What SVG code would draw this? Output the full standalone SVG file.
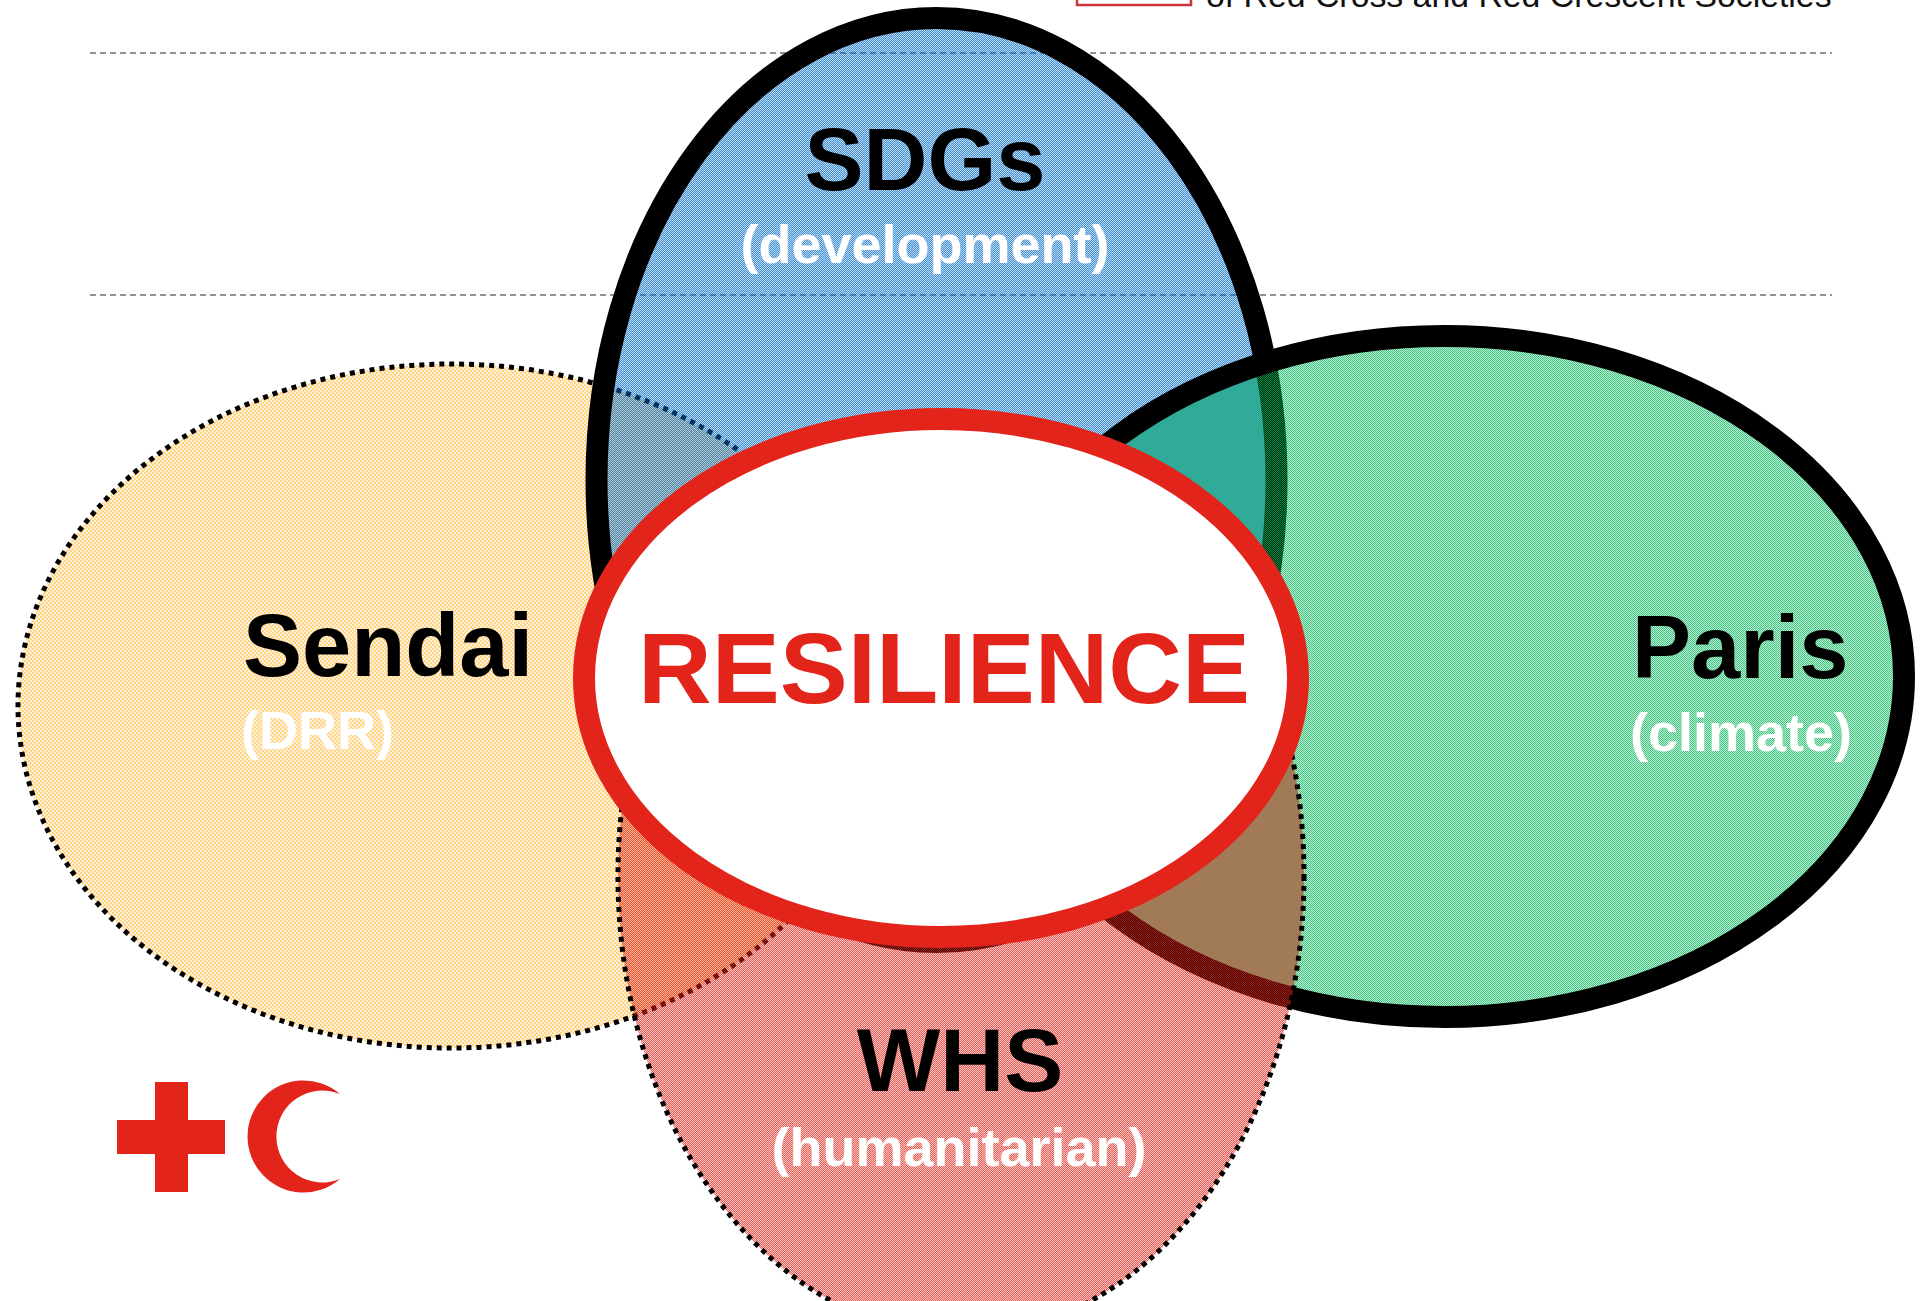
<svg xmlns="http://www.w3.org/2000/svg" width="1922" height="1301" viewBox="0 0 1922 1301">
<style>
.b{font-family:"Liberation Sans",Arial,sans-serif;font-weight:700}
.t{font-size:88.5px;fill:#000}
.w{font-size:54px;fill:#fff}
.solid{stroke:#000;stroke-width:22}
.dot{stroke:#000;stroke-width:5;stroke-dasharray:5 5}
.dash{stroke:#6f6f6f;stroke-width:1.6;stroke-dasharray:6 4;fill:none}
.hi{fill-opacity:.75}
.lo{fill-opacity:.25}
</style>
<defs>
<pattern id="py" width="4" height="4" patternUnits="userSpaceOnUse"><g fill="#ffc85e"><path class="hi" d="M0 0h2v2h-2zM2 2h2v2h-2z"/><path class="lo" d="M2 0h2v2h-2zM0 2h2v2h-2z"/></g></pattern>
<pattern id="pb" width="2" height="2" patternUnits="userSpaceOnUse"><g fill="#0069c7"><path class="hi" d="M1 0h1v1h-1zM0 1h1v1h-1z"/><path class="lo" d="M0 0h1v1h-1zM1 1h1v1h-1z"/></g></pattern>
<pattern id="pg" width="2" height="2" patternUnits="userSpaceOnUse"><g fill="#00b454"><path class="hi" d="M0 0h1v1h-1zM1 1h1v1h-1z"/><path class="lo" d="M1 0h1v1h-1zM0 1h1v1h-1z"/></g></pattern>
<pattern id="pr" width="2" height="2" patternUnits="userSpaceOnUse"><g fill="#e3241b"><path class="hi" d="M1 0h1v1h-1zM0 1h1v1h-1z"/><path class="lo" d="M0 0h1v1h-1zM1 1h1v1h-1z"/></g></pattern>
</defs>
<rect width="1922" height="1301" fill="#fff"/>
<g id="guides">
<line class="dash" x1="90" y1="53" x2="1832" y2="53"/>
<line class="dash" x1="90" y1="295" x2="1832" y2="295"/>
</g>
<g id="legend">
<rect x="1077" y="-20" width="114" height="25" fill="#fff" stroke="#c8353a" stroke-width="2.5"/>
<text x="1206" y="7" font-size="33.8" font-family="Liberation Sans,Arial,sans-serif" fill="#111">of Red Cross and Red Crescent Societies</text>
</g>
<g id="sendai"><ellipse class="dot" cx="451" cy="706" rx="433" ry="342" fill="url(#py)"/></g>
<g id="sdgs"><ellipse class="solid" cx="936.5" cy="480" rx="340" ry="462" fill="url(#pb)"/></g>
<g id="paris"><ellipse class="solid" cx="1444" cy="676.5" rx="460" ry="340.5" fill="url(#pg)"/></g>
<g id="whs"><ellipse class="dot" cx="961" cy="876" rx="343" ry="459" fill="url(#pr)"/></g>
<g id="resilience"><ellipse cx="941" cy="678" rx="357" ry="259" fill="#fff" stroke="#e3241b" stroke-width="22"/>
<text class="b" x="944" y="703" font-size="100" text-anchor="middle" fill="#e3241b" textLength="612" lengthAdjust="spacingAndGlyphs">RESILIENCE</text></g>
<g id="labels">
<text class="b t" x="925" y="190" text-anchor="middle">SDGs</text>
<text class="b w" x="925" y="263" text-anchor="middle">(development)</text>
<text class="b t" x="243" y="676">Sendai</text>
<text class="b w" x="241" y="749">(DRR)</text>
<text class="b t" x="1632" y="678">Paris</text>
<text class="b w" x="1630" y="751">(climate)</text>
<text class="b t" x="960" y="1091" text-anchor="middle">WHS</text>
<text class="b w" x="959" y="1166" text-anchor="middle">(humanitarian)</text>
</g>
<g id="logo" fill="#e3241b">
<path d="M155 1082H188V1120H225V1154H188V1192H155V1154H117V1120H155Z"/>
<path d="M340 1094A56 56 0 1 0 340 1179A46 46 0 1 1 340 1094Z"/>
</g>
</svg>
